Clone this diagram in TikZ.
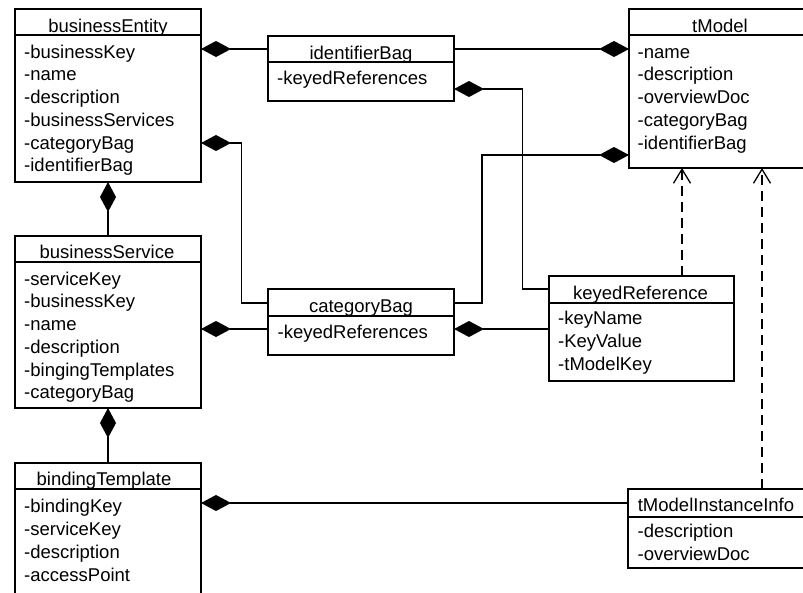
\documentclass[tikz,border=0pt]{standalone}
\usepackage{fontspec}
\setmainfont{Liberation Sans}
\usetikzlibrary{arrows.meta,calc}
\begin{document}
\begin{tikzpicture}[x=1pt,y=-1pt,
  box/.style={draw, line width=1.3pt, inner sep=0pt, outer sep=0pt, anchor=north west},
  divider/.style={line width=1.3pt},
  ttl/.style={anchor=base, inner sep=0pt, font=\fontsize{18.5}{22}\selectfont},
  attr/.style={anchor=base west, inner sep=0pt, font=\fontsize{18.5}{22}\selectfont},
  link/.style={line width=1.3pt},
  comp/.style={link, {Diamond[length=30pt,width=16pt]}-},
  dep/.style={link, dash pattern=on 10pt off 6pt, -{Straight Barb[length=14pt,width=17pt,line width=1.3pt]}}
]
\clip (0,0) rectangle (803,592);
\fill[white] (0,0) rectangle (803,592);

% ---------- class boxes ----------
\node[box, minimum width=186pt, minimum height=173pt] (be) at (15,9) {};
\draw[divider] (15,35) -- (202,35);
\node[ttl] (beT) at (108,32) {businessEntity};
\foreach \t [count=\i] in {-businessKey,-name,-description,-businessServices,-categoryBag,-identifierBag}
  \node[attr] (be-a\i) at (24,{58+22.75*(\i-1)}) {\t};

\node[box, minimum width=186pt, minimum height=65pt] (ib) at (268,36) {};
\draw[divider] (268,62) -- (455,62);
\node[ttl] (ibT) at (361,59.5) {identifierBag};
\node[attr] (ib-a1) at (277,84) {-keyedReferences};

\node[box, minimum width=182pt, minimum height=159pt] (tm) at (629,9) {};
\draw[divider] (629,35) -- (811,35);
\node[ttl] (tmT) at (720,32) {tModel};
\foreach \t [count=\i] in {-name,-description,-overviewDoc,-categoryBag,-identifierBag}
  \node[attr] (tm-a\i) at (637.5,{58+22.75*(\i-1)}) {\t};

\node[box, minimum width=186pt, minimum height=172pt] (bs) at (15,236) {};
\draw[divider] (15,262) -- (202,262);
\node[ttl] (bsT) at (107,258.5) {businessService};
\foreach \t [count=\i] in {-serviceKey,-businessKey,-name,-description,-bingingTemplates,-categoryBag}
  \node[attr] (bs-a\i) at (24,{285+22.75*(\i-1)}) {\t};

\node[box, minimum width=186pt, minimum height=66pt] (cb) at (268,289) {};
\draw[divider] (268,316) -- (455,316);
\node[ttl] (cbT) at (361,312.5) {categoryBag};
\node[attr] (cb-a1) at (277.5,338.5) {-keyedReferences};

\node[box, minimum width=185pt, minimum height=105pt] (kr) at (549,276) {};
\draw[divider] (549,303) -- (735,303);
\node[ttl] (krT) at (640.5,299) {keyedReference};
\foreach \t [count=\i] in {-keyName,-KeyValue,-tModelKey}
  \node[attr] (kr-a\i) at (558,{324.5+22.75*(\i-1)}) {\t};

\node[box, minimum width=186pt, minimum height=160pt] (bt) at (15,463) {};
\draw[divider] (15,489) -- (202,489);
\node[ttl] (btT) at (104,485) {bindingTemplate};
\foreach \t [count=\i] in {-bindingKey,-serviceKey,-description,-accessPoint}
  \node[attr] (bt-a\i) at (24,{512+23*(\i-1)}) {\t};

\node[box, minimum width=177pt, minimum height=79pt] (tmi) at (628,489) {};
\draw[divider] (628,517) -- (805,517);
\node[ttl] (tmiT) at (716,511.7) {tModelInstanceInfo};
\foreach \t [count=\i] in {-description,-overviewDoc}
  \node[attr] (tmi-a\i) at (637.5,{537.5+23*(\i-1)}) {\t};

% ---------- compositions ----------
\draw[comp] ($(be.north east)+(0,40)$) -- ($(ib.north west)+(0,13)$);
\draw[comp] ($(tm.north west)+(0,40)$) -- ($(ib.north east)+(0,13)$);
\draw[comp] ($(ib.north east)+(0,53)$) -| ($(kr.north west)+(-26.5,13)$) -- ($(kr.north west)+(0,13)$);
\draw[comp] ($(be.north east)+(0,134)$) -| ($(cb.north west)+(-26.5,14)$) -- ($(cb.north west)+(0,14)$);
\draw[comp] ($(tm.north west)+(0,146)$) -| ($(cb.north east)+(28,14)$) -- ($(cb.north east)+(0,14)$);
\draw[comp] ($(bs.north east)+(0,93)$) -- ($(cb.north west)+(0,40)$);
\draw[comp] ($(cb.north east)+(0,40)$) -- ($(kr.north west)+(0,53)$);
\draw[comp] ($(be.south west)+(93,0)$) -- ($(bs.north west)+(93,0)$);
\draw[comp] ($(bs.south west)+(93,0)$) -- ($(bt.north west)+(93,0)$);
\draw[comp] ($(bt.north east)+(0,40)$) -- ($(tmi.north west)+(0,14)$);

% ---------- dependencies ----------
\draw[dep] ($(kr.north west)+(133,0)$) -- ($(tm.south west)+(53,0)$);
\draw[dep] ($(tmi.north west)+(134,0)$) -- ($(tm.south west)+(133,0)$);
\end{tikzpicture}
\end{document}
